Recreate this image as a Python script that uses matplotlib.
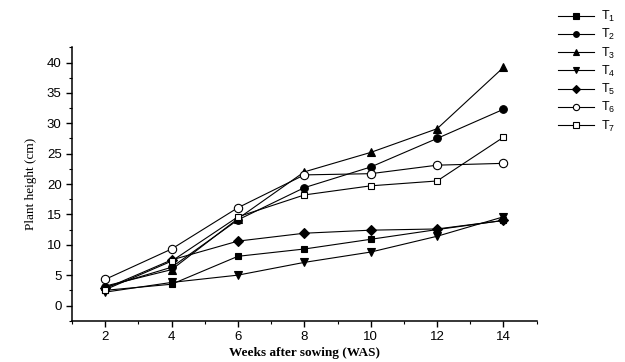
import matplotlib
matplotlib.use('Agg')
import matplotlib.pyplot as plt
from matplotlib.ticker import MultipleLocator

weeks = [2, 4, 6, 8, 10, 12, 14]
t1 = [2.5, 3.5, 8.1, 9.3, 10.9, 12.5, 14.0]
t2 = [3.0, 6.3, 14.1, 19.4, 22.8, 27.5, 32.3]
t3 = [3.2, 5.9, 14.3, 22.0, 25.2, 29.1, 39.2]
t4 = [2.2, 3.8, 5.0, 7.1, 8.8, 11.4, 14.6]
t5 = [2.8, 7.5, 10.6, 11.9, 12.4, 12.6, 14.0]
t6 = [4.3, 9.3, 16.1, 21.5, 21.7, 23.1, 23.4]
t7 = [2.6, 7.3, 14.6, 18.2, 19.7, 20.5, 27.7]
labels = ['$\\mathregular{T_1}$', '$\\mathregular{T_2}$', '$\\mathregular{T_3}$',
          '$\\mathregular{T_4}$', '$\\mathregular{T_5}$', '$\\mathregular{T_6}$',
          '$\\mathregular{T_7}$']

series = [t1, t2, t3, t4, t5, t6, t7]
markers = ['s', 'o', '^', 'v', 'D', 'o', 's']
fills = ['k', 'k', 'k', 'k', 'k', 'white', 'white']
sizes = [5, 5.5, 6, 6, 5, 6, 5]

plt.rcParams['font.family'] = 'Liberation Sans'
fig = plt.figure(figsize=(6.25, 3.62), dpi=100)
ax = fig.add_axes([0.1152, 0.1141, 0.7435, 0.7552])

for s, m, f, ms, lab in zip(series, markers, fills, sizes, labels):
    ax.plot(weeks, s, color='k', lw=0.8, marker=m, markersize=ms,
            markerfacecolor=f, markeredgecolor='k', markeredgewidth=0.8,
            label=lab)

ax.set_xlim(1, 15)
ax.set_ylim(-2.5, 42.5)
ax.xaxis.set_major_locator(MultipleLocator(2))
ax.xaxis.set_minor_locator(MultipleLocator(1))
ax.yaxis.set_major_locator(MultipleLocator(5))
ax.yaxis.set_minor_locator(MultipleLocator(2.5))
ax.set_xticks(weeks)
ax.tick_params(which='major', length=4, width=1, labelsize=9.5)
ax.tick_params(which='minor', length=2, width=0.8)
for side in ['top', 'right']:
    ax.spines[side].set_visible(False)
for side in ['left', 'bottom']:
    ax.spines[side].set_linewidth(1.1)

ax.set_xlabel('Weeks after sowing (WAS)', family='Liberation Serif',
              fontweight='bold', fontsize=9.5, labelpad=3)
ax.set_ylabel('Plant height (cm)', family='Liberation Serif', fontsize=9.5,
              labelpad=7)

fig.legend(loc='upper left', bbox_to_anchor=(0.892, 0.975), frameon=False,
           fontsize=9, handlelength=2.9, handletextpad=0.6, markerscale=0.75,
           labelspacing=0.25, borderpad=0, borderaxespad=0)

fig.savefig('out.png', dpi=100)
